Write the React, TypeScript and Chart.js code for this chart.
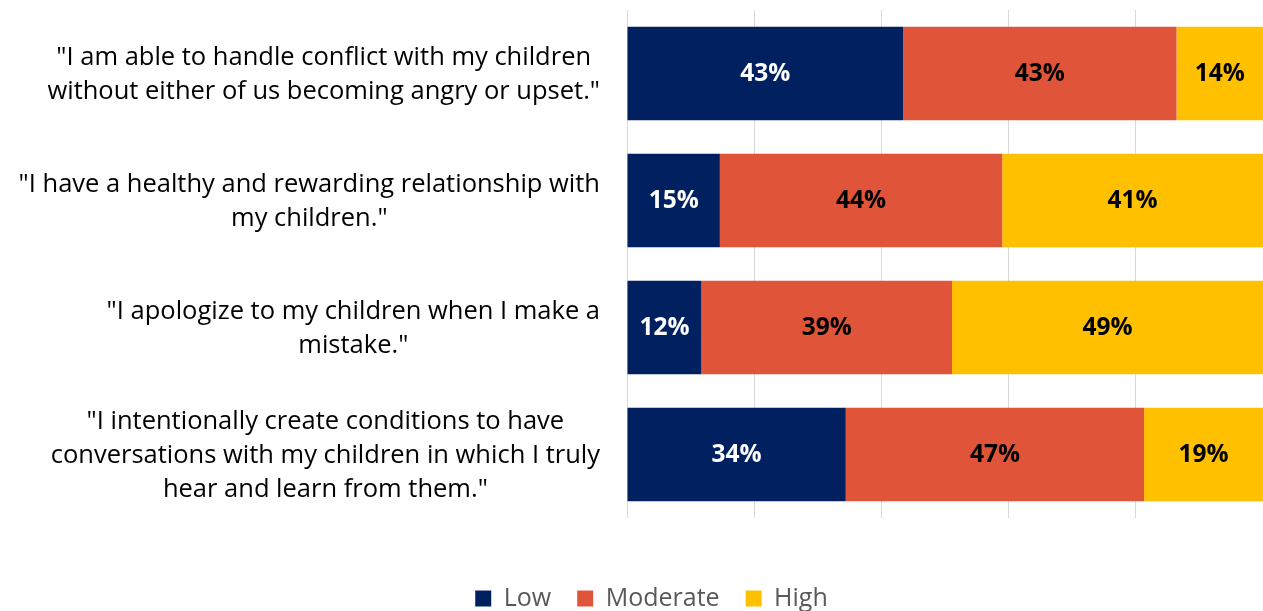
import React, { useEffect, useRef } from "react";
import { Chart, registerables } from "chart.js";

Chart.register(...registerables);

const categories: string[][] = [
  ['"I am able to handle conflict with my children', 'without either of us becoming angry or upset."'],
  ['"I have a healthy and rewarding relationship with', 'my children."'],
  ['"I apologize to my children when I make a', 'mistake."'],
  ['"I intentionally create conditions to have', 'conversations with my children in which I truly', 'hear and learn from them."'],
];
const seriesNames = ["Low", "Moderate", "High"];
const lowValues = [43.4, 14.6, 11.7, 34.4];
const moderateValues = [43.0, 44.4, 39.4, 46.9];
const highValues = [13.6, 41.0, 48.9, 18.7];
const xTicks = [0, 20, 40, 60, 80, 100];

const COLORS = ["#002060", "#E0543A", "#FFC000"];
const LABEL_COLORS = ["#FFFFFF", "#000000", "#000000"];
const FONT = "'Open Sans', sans-serif";

const catLabelPlugin = {
  id: "catLabels",
  afterDraw(chart: any) {
    const ctx = chart.ctx;
    const y = chart.scales.y;
    ctx.save();
    ctx.font = `25.5px ${FONT}`;
    ctx.fillStyle = "#000000";
    ctx.textAlign = "center";
    ctx.textBaseline = "middle";
    const right = 600;
    const lh = 34;
    categories.forEach((lines, i) => {
      const cy = y.getPixelForValue(i) + 1;
      const w = Math.max(...lines.map((l) => ctx.measureText(l).width));
      const cx = right - w / 2;
      const start = cy - ((lines.length - 1) * lh) / 2;
      lines.forEach((l, j) => ctx.fillText(l, cx, start + j * lh));
    });
    ctx.restore();
  },
};

const dataLabelPlugin = {
  id: "dataLabels",
  afterDatasetsDraw(chart: any) {
    const ctx = chart.ctx;
    ctx.save();
    ctx.font = `bold 24.5px ${FONT}`;
    ctx.textAlign = "center";
    ctx.textBaseline = "middle";
    chart.data.datasets.forEach((ds: any, di: number) => {
      const meta = chart.getDatasetMeta(di);
      meta.data.forEach((bar: any, i: number) => {
        const v = ds.data[i];
        const cx = (bar.x + bar.base) / 2;
        ctx.fillStyle = LABEL_COLORS[di];
        ctx.fillText(`${Math.round(v)}%`, cx, bar.y + 1);
      });
    });
    ctx.restore();
  },
};

export default function App() {
  const ref = useRef<HTMLCanvasElement>(null);
  useEffect(() => {
    if (!ref.current) return;
    const chart = new Chart(ref.current, {
      type: "bar",
      data: {
        labels: categories.map((c) => c.join(" ")),
        datasets: [
          { label: seriesNames[0], data: lowValues, backgroundColor: COLORS[0] },
          { label: seriesNames[1], data: moderateValues, backgroundColor: COLORS[1] },
          { label: seriesNames[2], data: highValues, backgroundColor: COLORS[2] },
        ],
      },
      options: {
        indexAxis: "y",
        animation: false,
        responsive: true,
        maintainAspectRatio: false,
        layout: { padding: { top: 10, left: 40, right: 0, bottom: 0 } },
        datasets: { bar: { categoryPercentage: 1, barPercentage: 0.735 } },
        scales: {
          x: {
            stacked: true,
            min: 0,
            max: 100,
            afterBuildTicks: (s: any) => {
              s.ticks = xTicks.map((v) => ({ value: v }));
            },
            ticks: { display: false },
            grid: { color: "#D9D9D9", lineWidth: 1, drawTicks: false },
            border: { display: false },
            afterFit: (s: any) => {
              s.height = 42;
            },
          },
          y: {
            stacked: true,
            ticks: { display: false },
            grid: { display: false, drawTicks: false },
            border: { display: false },
            afterFit: (s: any) => {
              s.width = 587;
            },
          },
        },
        plugins: {
          legend: {
            position: "bottom",
            labels: {
              font: { family: FONT, size: 25 },
              color: "#595959",
              boxWidth: 16,
              boxHeight: 16,
              padding: 26,
            },
          },
          tooltip: { enabled: false },
        },
      },
      plugins: [catLabelPlugin, dataLabelPlugin],
    });
    return () => chart.destroy();
  }, []);
  return (
    <div style={{ position: "fixed", left: 0, top: 0, width: 1263, height: 621, background: "#fff" }}>
      <canvas ref={ref} />
    </div>
  );
}
